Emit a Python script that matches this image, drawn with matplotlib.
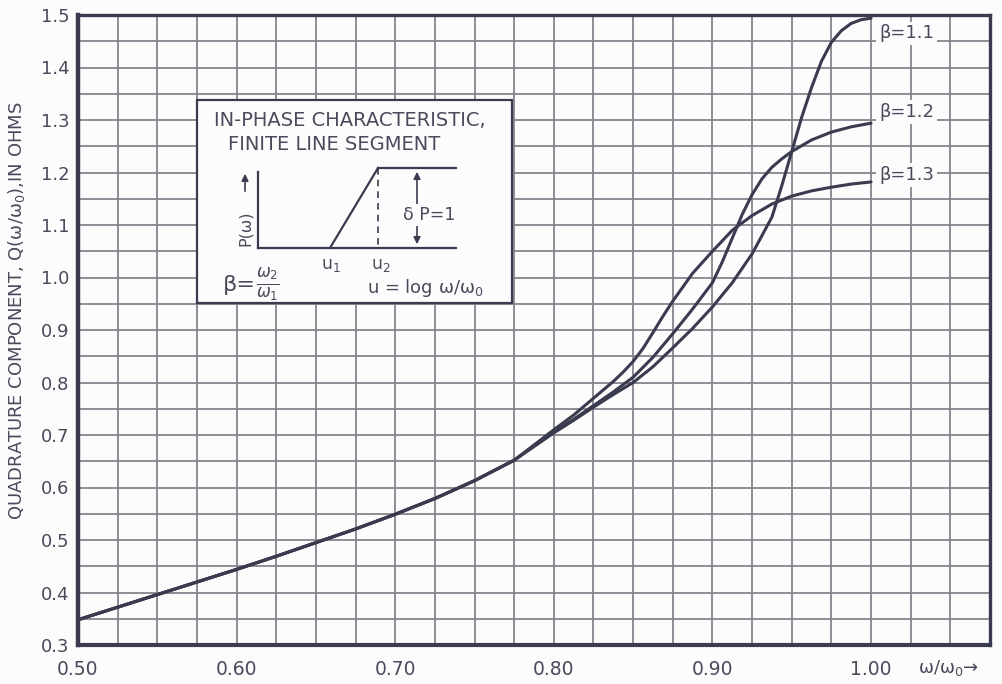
import matplotlib
matplotlib.use("Agg")
import matplotlib.pyplot as plt
from matplotlib.ticker import MultipleLocator, FixedLocator
from matplotlib.patches import Rectangle, FancyArrowPatch

# Shared low-frequency part of the quadrature curve
x_common = [0.50, 0.525, 0.55, 0.575, 0.60, 0.625, 0.65, 0.675, 0.70, 0.725, 0.75, 0.775]
q_common = [0.348, 0.372, 0.396, 0.420, 0.444, 0.469, 0.495, 0.521, 0.549, 0.579, 0.613, 0.652]

# Upper-frequency branches, one per segment width ratio beta
x_beta11 = [0.80, 0.8125, 0.825, 0.8375, 0.85, 0.8625, 0.875, 0.8875, 0.90, 0.9125, 0.925,
            0.9375, 0.94375, 0.95, 0.95625, 0.9625, 0.96875, 0.975, 0.98125, 0.9875, 0.99375, 1.00]
q_beta11 = [0.704, 0.728, 0.753, 0.777, 0.800, 0.830, 0.866, 0.903, 0.944, 0.990, 1.045,
            1.115, 1.175, 1.240, 1.305, 1.362, 1.412, 1.448, 1.470, 1.484, 1.491, 1.494]

x_beta12 = [0.80, 0.8125, 0.825, 0.8375, 0.85, 0.8625, 0.875, 0.8875, 0.90, 0.90625, 0.9125,
            0.91875, 0.925, 0.93125, 0.9375, 0.94375, 0.95, 0.9625, 0.975, 0.9875, 1.00]
q_beta12 = [0.706, 0.730, 0.756, 0.782, 0.810, 0.848, 0.893, 0.940, 0.990, 1.030, 1.075,
            1.120, 1.158, 1.188, 1.210, 1.226, 1.240, 1.262, 1.277, 1.287, 1.294]

x_beta13 = [0.80, 0.8125, 0.825, 0.8375, 0.84375, 0.85, 0.85625, 0.8625, 0.86875, 0.875, 0.8875,
            0.90, 0.9125, 0.925, 0.9375, 0.95, 0.9625, 0.975, 0.9875, 1.00]
q_beta13 = [0.710, 0.738, 0.770, 0.802, 0.820, 0.840, 0.865, 0.895, 0.926, 0.955, 1.008,
            1.050, 1.090, 1.118, 1.140, 1.155, 1.165, 1.172, 1.178, 1.182]

beta_labels = ["β=1.1", "β=1.2", "β=1.3"]
label_y = [1.465, 1.315, 1.195]

x_ticks = [0.50, 0.60, 0.70, 0.80, 0.90, 1.00]
x_ticklabels = ["0.50", "0.60", "0.70", "0.80", "0.90", "1.00"]
y_ticks = [0.3, 0.4, 0.5, 0.6, 0.7, 0.8, 0.9, 1.0, 1.1, 1.2, 1.3, 1.4, 1.5]
y_ticklabels = ["0.3", "0.4", "0.5", "0.6", "0.7", "0.8", "0.9", "1.0", "1.1", "1.2", "1.3", "1.4", "1.5"]

ink = "#3b3b50"
grid_c = "#85858f"
text_c = "#4a4a5c"
paper = "#fcfcfd"

plt.rcParams["font.family"] = ["DejaVu Sans"]

fig = plt.figure(figsize=(10.03, 6.84), dpi=100)
fig.patch.set_facecolor(paper)
W, H = 1003, 684
ax = fig.add_axes([78 / W, 1 - 645 / H, (990 - 78) / W, (645 - 15) / H])
ax.set_facecolor(paper)
ax.set_xlim(0.50, 1.075)
ax.set_ylim(0.3, 1.5)

ax.xaxis.set_major_locator(FixedLocator(x_ticks))
ax.set_xticklabels(x_ticklabels)
ax.xaxis.set_minor_locator(MultipleLocator(0.025))
ax.yaxis.set_major_locator(FixedLocator(y_ticks))
ax.set_yticklabels(y_ticklabels)
ax.yaxis.set_minor_locator(MultipleLocator(0.05))
ax.grid(True, which="both", color=grid_c, lw=1.3)
ax.set_axisbelow(True)
ax.tick_params(which="both", length=0, labelcolor=text_c)
ax.tick_params(axis="x", pad=11, labelsize=13.5)
ax.tick_params(axis="y", pad=6, labelsize=13)
for side, sp in ax.spines.items():
    sp.set_color(ink)
    sp.set_linewidth(2.4)
ax.spines["left"].set_linewidth(3.2)
ax.spines["bottom"].set_linewidth(3.0)

for xs, qs in ((x_beta11, q_beta11), (x_beta12, q_beta12), (x_beta13, q_beta13)):
    ax.plot(x_common + xs, q_common + qs, color=ink, lw=2.2,
            solid_capstyle="round", solid_joinstyle="round", zorder=3)

for lab, yy in zip(beta_labels, label_y):
    ax.text(1.005, yy, lab, fontsize=13, color=text_c, va="center", ha="left", zorder=4,
            bbox=dict(boxstyle="square,pad=0.15", fc=paper, ec="none"))

ax.set_ylabel("QUADRATURE COMPONENT, Q(ω/ω$_0$),IN OHMS", fontsize=13, color=text_c)
ax.yaxis.set_label_coords(-0.056, 0.53)

# Pixel-coordinate overlay for the axis note and the inset diagram
ov = fig.add_axes([0, 0, 1, 1], zorder=5)
ov.set_xlim(0, W)
ov.set_ylim(H, 0)
ov.axis("off")
ov.patch.set_alpha(0)

ov.text(918, 668, "ω/ω$_0$→", fontsize=13, color=text_c, ha="left", va="center")

ov.add_patch(Rectangle((197, 100), 512 - 197, 303 - 100, fc=paper, ec=ink, lw=1.6))
ov.text(214, 121, "IN-PHASE CHARACTERISTIC,", fontsize=14, color=text_c, ha="left", va="center")
ov.text(228, 145, "FINITE LINE SEGMENT", fontsize=14, color=text_c, ha="left", va="center")

ov.plot([258, 258], [172, 248], color=ink, lw=1.6)
ov.plot([258, 456], [248, 248], color=ink, lw=1.6)
ov.plot([330, 378], [248, 168], color=ink, lw=1.6)
ov.plot([378, 456], [168, 168], color=ink, lw=1.6)
ov.plot([378, 378], [168, 248], color=ink, lw=1.2, ls=(0, (4, 3)))

ov.add_patch(FancyArrowPatch((417, 247), (417, 169), arrowstyle="<|-|>", mutation_scale=10,
                             color=ink, lw=1.2))
ov.text(403, 215, "δ P=1", fontsize=12.5, color=text_c, ha="left", va="center",
        bbox=dict(boxstyle="square,pad=0.1", fc=paper, ec="none"))

ov.add_patch(FancyArrowPatch((245, 194), (245, 171), arrowstyle="-|>", mutation_scale=10,
                             color=ink, lw=1.2))
ov.text(245, 228, "P(ω)", fontsize=11.5, color=text_c, rotation=90, ha="center", va="center")
ov.text(331, 265, "u$_1$", fontsize=12.5, color=text_c, ha="center", va="center")
ov.text(381, 265, "u$_2$", fontsize=12.5, color=text_c, ha="center", va="center")
ov.text(223, 285, "β=", fontsize=16, color=text_c, ha="left", va="center")
ov.text(268, 284, r"$\frac{\omega_2}{\omega_1}$", fontsize=17, color=text_c, ha="center", va="center")
ov.text(367, 288, "u = log ω/ω$_0$", fontsize=13, color=text_c, ha="left", va="center")

fig.savefig("out.png", dpi=100, facecolor=fig.get_facecolor())
